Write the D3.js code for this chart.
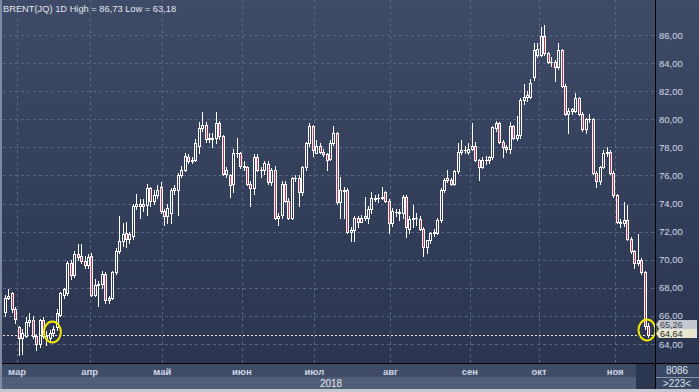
<!DOCTYPE html>
<html>
<head>
<meta charset="utf-8">
<script src="https://cdn.jsdelivr.net/npm/d3@7"></script>
<style>
html, body { margin: 0; padding: 0; background: #2b3550; overflow: hidden; }
svg { display: block; font-family: "Liberation Sans", Arial, sans-serif; }
</style>
</head>
<body>
<script>
//chart texts
var title = "BRENT(JQ) 1D High = 86,73 Low = 63,18";
var yearLabel = "2018";
var footer = ["8086", ">223<"];

//month labels and index of first trading day of each month
var monthLabels = ["мар", "апр", "май", "июн", "июл", "авг", "сен", "окт", "ноя"];
var monthStarts = [4, 25, 46, 69, 90, 112, 135, 155, 177];

//price ticks on the right axis
var yTicks = [64, 66, 68, 70, 72, 74, 76, 78, 80, 82, 84, 86];

//daily candles: open, high, low, close
var ohlc = [
    [66.3,67.5,66.0,67.3],[67.3,67.9,67.2,67.45],[67.6,67.7,66.3,66.5],[66.5,66.6,65.5,65.8],[65.2,65.3,63.2,64.4],
    [64.4,65.1,63.3,64.8],[64.6,65.9,64.5,65.6],[65.6,66.2,65.3,65.7],[65.7,66.0,64.4,64.6],[64.6,64.7,63.6,64.0],
    [64.0,65.8,63.8,65.7],[65.7,65.9,64.4,64.6],[64.6,64.9,63.9,64.4],[64.4,65.0,64.2,64.8],[64.8,65.3,64.6,65.1],
    [65.2,66.5,65.0,66.2],[66.1,67.7,66.0,67.6],[67.5,68.0,67.3,67.9],[67.6,69.9,67.5,69.8],[69.8,70.0,68.6,68.9],
    [68.9,70.6,68.8,70.4],[70.4,71.1,70.0,70.2],[70.3,71.1,69.8,69.9],[69.9,70.3,69.4,69.6],[69.6,70.4,69.4,70.2],
    [70.3,70.5,67.4,67.5],[67.5,68.6,67.4,68.2],[68.2,68.5,66.7,68.3],[68.3,69.2,68.0,69.0],[69.0,69.1,66.9,67.1],
    [67.1,67.4,66.9,67.3],[67.3,69.2,67.2,69.1],[69.1,70.8,69.0,70.6],[70.6,73.1,70.5,71.3],[71.3,72.6,71.0,71.8],
    [71.9,72.7,70.9,71.5],[71.5,72.0,71.2,71.8],[71.7,74.0,71.5,73.8],[73.8,74.7,73.6,74.0],[74.0,74.3,73.0,73.8],
    [73.8,74.3,73.5,74.0],[73.9,75.4,73.2,75.1],[75.1,75.2,73.8,74.2],[74.2,75.0,74.0,74.6],[74.6,75.3,74.4,75.0],
    [75.2,75.5,73.3,73.5],
    [73.5,73.6,72.5,73.1],[73.1,74.0,72.6,73.7],[73.3,75.1,72.6,75.0],[75.0,75.3,74.7,75.1],[75.0,76.2,73.2,76.0],
    [76.0,76.7,75.9,76.4],[76.4,77.6,76.3,77.4],[77.3,77.5,76.9,77.0],[77.0,77.3,76.9,77.1],[77.1,78.6,77.0,78.3],
    [78.1,79.8,77.6,79.4],[79.4,80.5,79.2,79.6],[79.6,79.8,78.4,78.6],[78.6,79.0,78.4,78.7],[78.7,79.0,78.0,78.6],
    [78.7,80.5,78.3,79.7],[79.7,79.9,78.6,78.8],[78.8,78.9,76.0,76.1],[76.1,76.6,75.9,76.4],[76.0,76.1,74.5,75.3],
    [75.4,77.9,74.8,77.6],[77.6,78.7,77.3,77.6],[77.6,77.7,76.5,76.7],[76.7,77.0,76.4,76.6],[76.6,76.7,75.3,75.4],
    [75.4,75.6,73.8,75.1],[75.1,77.5,74.7,77.3],[77.3,77.5,76.3,76.4],[76.4,76.6,75.9,76.4],[76.4,77.0,76.1,76.9],
    [76.8,77.0,75.4,75.5],[75.5,76.5,75.3,76.4],[76.4,76.7,72.9,73.0],[73.0,73.3,72.5,73.1],[73.2,75.6,73.0,75.4],
    [75.4,75.6,74.1,74.2],[74.2,74.4,72.9,73.0],[73.0,75.9,72.9,75.8],[75.8,76.0,75.6,75.8],[75.8,76.0,73.8,74.8],
    [74.8,76.7,74.6,76.6],[76.6,78.4,76.4,78.3],[78.3,79.7,78.1,79.5],[79.5,79.6,77.4,77.8],[77.6,78.5,77.6,78.1],
    [78.1,78.3,77.6,77.7],[77.7,77.9,77.4,77.5],[77.5,77.6,76.4,77.1],
    [77.2,78.5,77.1,78.3],[78.3,79.5,78.2,79.0],[79.0,79.1,74.0,74.1],[74.1,75.9,73.0,75.0],[75.0,75.2,73.0,74.9],
    [75.0,75.1,71.9,72.0],[72.0,72.3,71.3,72.1],[72.1,73.1,71.3,73.0],[73.0,73.1,72.3,72.7],[72.7,73.2,72.7,73.0],
    [73.0,74.5,72.8,73.1],[73.0,73.8,72.6,73.6],[73.6,74.8,73.3,74.4],[74.3,74.6,74.2,74.4],[74.4,74.7,74.1,74.4],
    [74.4,75.2,74.3,74.5],[74.8,74.9,74.1,74.2],[74.2,74.3,71.9,72.6],[72.6,73.7,72.4,73.5],[73.4,73.6,73.1,73.4],
    [73.4,73.6,72.8,73.3],[73.3,74.6,73.0,74.5],[74.5,74.6,71.6,72.3],[72.2,73.1,71.9,72.9],[72.9,73.9,72.3,73.0],
    [73.0,73.3,72.5,73.0],[72.9,73.1,72.1,72.2],[72.2,72.3,70.3,70.9],[70.9,71.4,70.5,71.4],[71.4,72.0,71.2,71.9],
    [71.9,72.2,71.7,72.0],[71.9,73.0,71.8,72.8],[72.8,75.1,72.7,75.0],[75.0,75.8,74.8,75.7],[75.7,76.4,75.5,75.8],
    [75.7,75.8,75.3,75.4],[75.4,76.4,75.3,76.3],[76.3,78.3,76.2,77.7],[77.7,78.5,77.5,77.8],[77.8,78.1,77.6,77.8],
    [77.7,78.3,77.5,77.9],[77.9,79.7,77.8,78.1],[78.1,78.4,77.0,77.1],[77.1,77.2,75.7,76.6],[76.6,77.3,76.5,77.1],
    [77.1,77.4,76.8,77.1],[77.1,77.4,76.9,77.3],[77.3,79.5,77.2,79.45],
    [79.4,79.9,79.2,79.7],[79.7,79.8,78.3,78.4],[78.4,78.5,77.3,78.0],[78.0,78.2,77.7,77.9],[77.9,79.8,77.6,79.5],
    [79.5,79.6,78.6,78.7],[78.7,80.2,78.5,78.9],[78.9,81.5,78.7,81.4],[81.4,82.5,81.1,81.6],[81.6,82.0,81.3,81.7],
    [81.6,82.9,81.5,82.6],[83.0,85.4,82.8,84.9],[84.6,85.4,84.4,85.0],[84.6,86.6,84.5,85.9],[85.9,86.73,84.6,84.7],
    [84.7,84.8,84.0,84.1],[84.1,84.4,83.8,84.1],[84.1,84.2,82.7,83.7],[83.7,85.4,83.6,84.9],[84.9,85.0,82.3,82.4],
    [82.4,82.5,80.3,80.4],[80.4,80.8,79.0,80.6],[80.6,80.8,80.4,80.7],[80.6,81.9,80.5,81.5],[81.5,81.6,80.3,80.4],
    [80.4,80.5,79.2,79.3],[79.3,80.1,79.0,80.0],[80.0,80.4,79.8,80.0],[80.0,80.1,76.1,76.2],[76.2,76.3,75.2,75.6],
    [75.6,76.7,75.4,76.6],[76.6,77.8,76.5,77.6],[77.6,78.0,77.4,77.7],[77.7,77.8,76.1,76.2],[76.2,76.3,74.5,74.6],
    [74.6,74.7,72.6,72.7],[72.7,72.9,72.3,72.6],[72.6,74.1,72.4,72.8],[72.8,73.9,71.4,71.5],[71.5,71.6,70.5,70.6],
    [70.6,70.7,69.4,69.8],[69.8,71.8,69.6,70.0],[70.0,70.1,69.0,69.1],[69.1,69.2,65.1,65.26],[65.26,65.5,64.5,64.64]
];

//price flags on the axis and highlighted spots
var lastPrice = 64.64;
var prevPrice = 65.26;
var markers = [{i: 14, v: 64.85}, {i: 186, v: 65.0}];

var fmt = function(v){ return d3.format(".2f")(v).replace(".", ","); };

window.onload = function(){

    var w = 699, h = 392;
    var plotL = 3, plotR = 655, plotB = 363;

    var svg = d3.select("body")
        .append("svg")
        .attr("width", w)
        .attr("height", h);

    //background gradient
    var defs = svg.append("defs");
    var grad = defs.append("linearGradient")
        .attr("id", "bg")
        .attr("x1", 0).attr("y1", 0).attr("x2", 0).attr("y2", 1);
    grad.append("stop").attr("offset", "0%").attr("stop-color", "#3e4a66");
    grad.append("stop").attr("offset", "100%").attr("stop-color", "#2b3550");

    svg.append("rect")
        .attr("x", 0).attr("y", 0)
        .attr("width", w).attr("height", plotB)
        .style("fill", "url(#bg)");

    //bottom bands
    svg.append("rect").attr("x", 0).attr("y", plotB).attr("width", w).attr("height", 14).style("fill", "#404c66");
    svg.append("rect").attr("x", 0).attr("y", plotB + 14).attr("width", w).attr("height", 12).style("fill", "#525e77");
    svg.append("rect").attr("x", 0).attr("y", 389).attr("width", w).attr("height", 3).style("fill", "#c4c8d0");
    svg.append("rect").attr("x", 636).attr("y", plotB).attr("width", 19).attr("height", 26).style("fill", "#2c3650");
    svg.append("rect").attr("x", plotR).attr("y", plotB).attr("width", w - plotR).attr("height", 26).style("fill", "#3b4762");
    svg.append("line")
        .attr("x1", plotR).attr("x2", w).attr("y1", 377.5).attr("y2", 377.5)
        .style("stroke", "#8a96ab");

    //left light edge
    svg.append("rect").attr("x", 0).attr("y", 0).attr("width", 2).attr("height", 389).style("fill", "#7f8ba2");

    //scales
    var x = d3.scaleLinear()
        .domain([0, ohlc.length - 1])
        .range([5, 648]);

    var y = d3.scaleLinear()
        .domain([64, 86])
        .range([344, 35]);

    //horizontal grid
    svg.selectAll(".hgrid")
        .data(yTicks)
        .enter()
        .append("line")
        .attr("class", "hgrid")
        .attr("x1", plotL).attr("x2", plotR)
        .attr("y1", function(d){ return Math.round(y(d)) + 0.5; })
        .attr("y2", function(d){ return Math.round(y(d)) + 0.5; })
        .style("stroke", "#5a6784")
        .style("stroke-dasharray", "3,3");

    //vertical grid at month starts
    svg.selectAll(".vgrid")
        .data(monthStarts)
        .enter()
        .append("line")
        .attr("class", "vgrid")
        .attr("x1", function(d){ return Math.round(x(d - 0.5)) + 0.5; })
        .attr("x2", function(d){ return Math.round(x(d - 0.5)) + 0.5; })
        .attr("y1", 0).attr("y2", plotB)
        .style("stroke", "#5a6784")
        .style("stroke-dasharray", "3,3");

    //last price dashed line
    svg.append("line")
        .attr("x1", plotL).attr("x2", plotR)
        .attr("y1", Math.round(y(lastPrice)) + 0.5)
        .attr("y2", Math.round(y(lastPrice)) + 0.5)
        .style("stroke", "#e6e6e6")
        .style("stroke-dasharray", "2,2");

    //candles
    var candles = svg.selectAll(".candle")
        .data(ohlc)
        .enter()
        .append("g")
        .attr("class", "candle");

    candles.each(function(d, i){
        var g = d3.select(this);
        var cx = Math.round(x(i));
        var top = Math.round(y(Math.max(d[0], d[3])));
        var bot = Math.round(y(Math.min(d[0], d[3])));
        var hi = Math.round(y(d[1]));
        var lo = Math.round(y(d[2]));
        var down = d[3] < d[0];

        //upper and lower wick
        g.append("line")
            .attr("x1", cx + 0.5).attr("x2", cx + 0.5)
            .attr("y1", hi).attr("y2", top)
            .style("stroke", "#ffffff");
        g.append("line")
            .attr("x1", cx + 0.5).attr("x2", cx + 0.5)
            .attr("y1", bot + 1).attr("y2", lo + 1)
            .style("stroke", "#ffffff");

        if (bot - top < 1) {
            g.append("line")
                .attr("x1", cx - 1).attr("x2", cx + 2)
                .attr("y1", top + 0.5).attr("y2", top + 0.5)
                .style("stroke", "#ffffff");
        } else {
            g.append("rect")
                .attr("x", cx - 0.5)
                .attr("y", top + 0.5)
                .attr("width", 2)
                .attr("height", bot - top)
                .style("fill", down ? "#c8324e" : "none")
                .style("stroke", "#ffffff");
        }
    });

    //yellow highlight circles
    svg.selectAll(".marker")
        .data(markers)
        .enter()
        .append("ellipse")
        .attr("class", "marker")
        .attr("cx", function(d){ return x(d.i) - 1; })
        .attr("cy", function(d){ return y(d.v); })
        .attr("rx", 8.5)
        .attr("ry", 10.5)
        .style("fill", "none")
        .style("stroke", "#f2ea00")
        .style("stroke-width", 2);

    //frame lines
    svg.append("line")
        .attr("x1", plotR + 0.5).attr("x2", plotR + 0.5)
        .attr("y1", 0).attr("y2", 389)
        .style("stroke", "#000000");
    svg.append("line")
        .attr("x1", 2).attr("x2", w)
        .attr("y1", plotB + 0.5).attr("y2", plotB + 0.5)
        .style("stroke", "#000000");

    //right axis labels
    svg.selectAll(".ylab")
        .data(yTicks)
        .enter()
        .append("text")
        .attr("class", "ylab")
        .attr("x", 659)
        .attr("y", function(d){ return y(d) + 3.5; })
        .style("font-size", "9.5px")
        .style("fill", "#d4dae6")
        .text(fmt);

    //price flags
    var lastTop = Math.round(y(lastPrice)) - 6;
    var flags = [
        {v: prevPrice, bg: "#c3c7cf", fg: "#3c4352", t: lastTop - 9, hh: 9},
        {v: lastPrice, bg: "#e8e6cf", fg: "#2a2a2a", t: lastTop, hh: 9}
    ];
    var flag = svg.selectAll(".flag")
        .data(flags)
        .enter()
        .append("g")
        .attr("class", "flag");
    flag.append("path")
        .attr("d", function(d){
            return "M656," + (d.t + d.hh / 2) + "L659," + d.t + "H697V" + (d.t + d.hh) + "H659Z";
        })
        .style("fill", function(d){ return d.bg; });
    flag.append("text")
        .attr("x", 660)
        .attr("y", function(d){ return d.t + 8; })
        .style("font-size", "9px")
        .style("fill", function(d){ return d.fg; })
        .text(function(d){ return fmt(d.v); });

    //title
    svg.append("text")
        .attr("x", 3)
        .attr("y", 12)
        .style("font-size", "9.3px")
        .style("fill", "#e4e8f0")
        .text(title);

    //month labels
    svg.selectAll(".mlab")
        .data(monthStarts)
        .enter()
        .append("text")
        .attr("class", "mlab")
        .attr("x", function(d){ return x(d - 0.5); })
        .attr("y", 375)
        .attr("text-anchor", "middle")
        .style("font-size", "9.5px")
        .style("font-weight", "bold")
        .style("fill", "#cfd7e6")
        .text(function(d, i){ return monthLabels[i]; });

    //year label
    svg.append("text")
        .attr("x", 331)
        .attr("y", 387)
        .attr("text-anchor", "middle")
        .style("font-size", "10px")
        .style("fill", "#e6eaf2")
        .text(yearLabel);

    //bottom right counters
    svg.selectAll(".foot")
        .data(footer)
        .enter()
        .append("text")
        .attr("class", "foot")
        .attr("x", 677)
        .attr("y", function(d, i){ return 374 + i * 13; })
        .attr("text-anchor", "middle")
        .style("font-size", "10px")
        .style("fill", "#dde3ee")
        .text(function(d){ return d; });
};
</script>
</body>
</html>
